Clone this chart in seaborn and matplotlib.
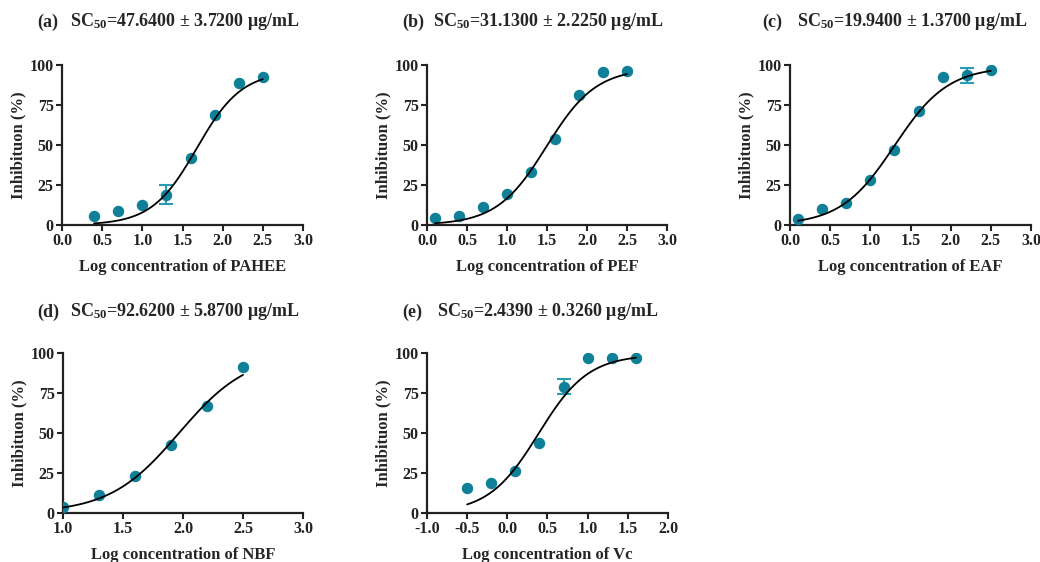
import numpy as np
import pandas as pd
import matplotlib
matplotlib.use('Agg')
import matplotlib.pyplot as plt
import seaborn as sns

sns.set_style('ticks')
plt.rcParams['font.family'] = ['Liberation Serif', 'DejaVu Serif']
plt.rcParams['font.weight'] = 'bold'
plt.rcParams['mathtext.fontset'] = 'custom'
plt.rcParams['mathtext.rm'] = 'Liberation Serif:bold'
plt.rcParams['mathtext.bf'] = 'Liberation Serif:bold'
plt.rcParams['mathtext.default'] = 'rm'

# panel data (log concentration, inhibition %)
labels = ['(a)', '(b)', '(c)', '(d)', '(e)']
titles = [r'SC$_{50}$=47.6400 ± 3.7200 μg/mL',
          r'SC$_{50}$=31.1300 ± 2.2250 μg/mL',
          r'SC$_{50}$=19.9400 ± 1.3700 μg/mL',
          r'SC$_{50}$=92.6200 ± 5.8700 μg/mL',
          r'SC$_{50}$=2.4390 ± 0.3260 μg/mL']
samples = ['PAHEE', 'PEF', 'EAF', 'NBF', 'Vc']

x_a = [0.4, 0.7, 1.0, 1.3, 1.6, 1.9, 2.2, 2.5]
y_a = [5.5, 8.5, 12.5, 19, 42, 69, 89, 92.5]
e_a = [0, 0, 0, 6, 0, 0, 0, 0]

x_b = [0.1, 0.4, 0.7, 1.0, 1.3, 1.6, 1.9, 2.2, 2.5]
y_b = [4.5, 5.5, 11.5, 19.5, 33, 54, 81, 95.5, 96]
e_b = [0, 0, 0, 0, 0, 0, 0, 0, 0]

x_c = [0.1, 0.4, 0.7, 1.0, 1.3, 1.6, 1.9, 2.2, 2.5]
y_c = [3.5, 10, 14, 28, 47, 71.5, 92.5, 93.5, 97]
e_c = [0, 0, 0, 0, 0, 0, 0, 4.5, 0]

x_d = [1.0, 1.3, 1.6, 1.9, 2.2, 2.5]
y_d = [4, 11, 23, 42.5, 67, 91.5]
e_d = [0, 0, 0, 0, 0, 0]

x_e = [-0.5, -0.2, 0.1, 0.4, 0.7, 1.0, 1.3, 1.6]
y_e = [15.5, 18.5, 26.5, 43.5, 79, 97, 97, 97]
e_e = [0, 0, 0, 0, 4.5, 0, 0, 0]

# fitted logistic curves: bottom, top, logSC50, hill slope
fit_bottom = [0, 0, 0, 0, 0]
fit_top = [96, 98, 99, 100, 99]
fit_logsc50 = [1.678, 1.493, 1.300, 1.967, 0.387]
fit_hill = [1.55, 1.4, 1.3, 1.5, 1.4]

xs = [x_a, x_b, x_c, x_d, x_e]
ys = [y_a, y_b, y_c, y_d, y_e]
es = [e_a, e_b, e_c, e_d, e_e]
xlims = [(0, 3), (0, 3), (0, 3), (1, 3), (-1, 2)]

dot = '#107f98'
bar = '#2b9bb2'

W, H = 1040, 562
fig = plt.figure(figsize=(W / 100, H / 100), dpi=100)

# axes boxes in pixels: left, top, right, bottom
boxes = [(62, 65, 303, 225), (427, 65, 667, 225), (790, 65, 1031, 225),
         (63, 353, 303, 513), (427, 353, 668, 513)]
lab_pos = [(37, 22), (402, 22), (762, 22), (37, 312), (402, 312)]
tit_pos = [(70, 22), (433, 22), (797, 22), (70, 312), (437, 312)]

for i in range(5):
    l, t, r, b = boxes[i]
    ax = fig.add_axes([l / W, 1 - b / H, (r - l) / W, (b - t) / H])
    df = pd.DataFrame({'x': xs[i], 'y': ys[i], 'err': es[i]})
    xf = np.linspace(min(xs[i]), max(xs[i]), 200)
    yf = fit_bottom[i] + (fit_top[i] - fit_bottom[i]) / (1 + 10 ** ((fit_logsc50[i] - xf) * fit_hill[i]))
    sub = df[df['err'] > 0]
    ax.errorbar(sub['x'], sub['y'], yerr=sub['err'], fmt='none', ecolor=bar,
                elinewidth=1.5, capsize=5, capthick=1.5, zorder=2)
    sns.scatterplot(data=df, x='x', y='y', color=dot, s=68, edgecolor=dot,
                    linewidth=0, ax=ax, zorder=3)
    sns.lineplot(x=xf, y=yf, color='black', linewidth=1.3, ax=ax, zorder=4)
    ax.set_xlim(*xlims[i])
    ax.set_ylim(0, 100)
    ticks = np.arange(xlims[i][0], xlims[i][1] + 0.01, 0.5)
    ax.set_xticks(ticks)
    ax.set_xticklabels(['%.1f' % v for v in ticks])
    ax.set_yticks([0, 25, 50, 75, 100])
    ax.tick_params(width=1.5, length=4, labelsize=11.5, pad=2, colors='#222222')
    for sp in ['left', 'bottom']:
        ax.spines[sp].set_linewidth(1.6)
        ax.spines[sp].set_color('#222222')
    sns.despine(ax=ax)
    ax.set_xlabel('Log concentration of ' + samples[i], fontsize=12, fontweight='bold', labelpad=7)
    ax.set_ylabel('Inhibituon (%)', fontsize=12, fontweight='bold', labelpad=2)
    fig.text(lab_pos[i][0] / W, 1 - lab_pos[i][1] / H, labels[i], fontsize=13,
             fontweight='bold', va='center', ha='left')
    fig.text(tit_pos[i][0] / W, 1 - tit_pos[i][1] / H, titles[i], fontsize=13,
             fontweight='bold', va='center', ha='left')

fig.savefig('out.png', dpi=100)
